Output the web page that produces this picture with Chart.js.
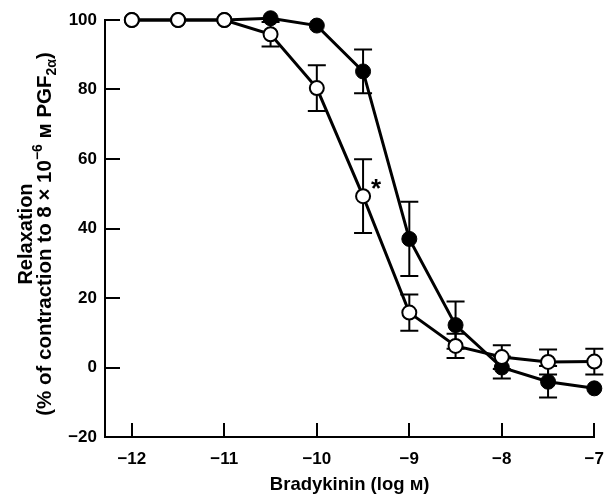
<!DOCTYPE html>
<html>
<head>
<meta charset="utf-8">
<script src="https://cdn.jsdelivr.net/npm/chart.js@4.4.1/dist/chart.umd.min.js"></script>
<style>
  html, body { margin: 0; padding: 0; background: #fff; }
  #wrap { width: 616px; height: 498px; position: relative; }
</style>
</head>
<body>
<div id="wrap"><canvas id="c" width="616" height="498"></canvas></div>
<script>
// ---- data ----
const concentrations = [-12, -11.5, -11, -10.5, -10, -9.5, -9, -8.5, -8, -7.5, -7];
const openMeans   = [100, 100, 100, 95.9, 80.4, 49.3, 15.8, 6.2, 3.0, 1.6, 1.7];
const openErrors  = [0, 0, 0, 3.5, 6.6, 10.6, 5.2, 3.5, 3.4, 3.6, 3.7];
const filledMeans = [100, 100, 100, 100.5, 98.4, 85.2, 37.0, 12.2, 0.0, -4.1, -6.0];
const filledErrors = [0, 0, 0, 0, 0, 6.3, 10.7, 6.8, 3.2, 4.5, 0];
const xTickValues = [-12, -11, -10, -9, -8, -7];
const yTickValues = [-20, 0, 20, 40, 60, 80, 100];
const starPoint = { x: -9.36, y: 53, text: '*' };
const xTitle = 'Bradykinin (log м)';
const yTitleLine1 = 'Relaxation';
const yTitleLine2 = [
  { t: '(% of contraction to 8 × 10', k: 'n' },
  { t: '−6', k: 'sup' },
  { t: ' м PGF', k: 'n' },
  { t: '2α', k: 'sub' },
  { t: ')', k: 'n' }
];

const FONT = '"Liberation Sans", Arial, Helvetica, sans-serif';
const toPts = (ys) => concentrations.map((x, i) => ({ x: x, y: ys[i] }));
const fmt = (v) => (v < 0 ? '\u2212' + Math.abs(v) : String(v));

const decor = {
  id: 'decor',
  beforeDatasetsDraw(chart) {
    const ctx = chart.ctx, xs = chart.scales.x, ys = chart.scales.y, a = chart.chartArea;
    ctx.save();
    ctx.strokeStyle = '#000';
    // inward tick marks
    ctx.lineWidth = 2;
    yTickValues.forEach(v => {
      const p = Math.round(ys.getPixelForValue(v));
      ctx.beginPath(); ctx.moveTo(a.left, p); ctx.lineTo(a.left + 15, p); ctx.stroke();
    });
    xTickValues.forEach(v => {
      const p = Math.round(xs.getPixelForValue(v));
      ctx.beginPath(); ctx.moveTo(p, a.bottom); ctx.lineTo(p, a.bottom - 14); ctx.stroke();
    });
    // error bars
    const bars = (means, errs) => {
      means.forEach((m, i) => {
        const e = errs[i];
        if (!e) return;
        const px = xs.getPixelForValue(concentrations[i]);
        const top = ys.getPixelForValue(m + e), bot = ys.getPixelForValue(m - e);
        ctx.lineWidth = 2;
        ctx.beginPath();
        ctx.moveTo(px, top); ctx.lineTo(px, bot);
        ctx.moveTo(px - 9, top); ctx.lineTo(px + 9, top);
        ctx.moveTo(px - 9, bot); ctx.lineTo(px + 9, bot);
        ctx.stroke();
      });
    };
    bars(openMeans, openErrors);
    bars(filledMeans, filledErrors);
    ctx.restore();
  },
  afterDraw(chart) {
    const ctx = chart.ctx, xs = chart.scales.x, ys = chart.scales.y, a = chart.chartArea;
    ctx.save();
    ctx.fillStyle = '#000';
    // asterisk
    ctx.font = 'bold 26px ' + FONT;
    ctx.textAlign = 'center';
    ctx.textBaseline = 'alphabetic';
    ctx.fillText(starPoint.text, xs.getPixelForValue(starPoint.x), ys.getPixelForValue(starPoint.y) + 14);
    // x title
    ctx.font = 'bold 18.5px ' + FONT;
    ctx.fillText(xTitle, (a.left + a.right) / 2, 490);
    // y title
    const cy = 234;
    ctx.save();
    ctx.translate(32, cy);
    ctx.rotate(-Math.PI / 2);
    ctx.textAlign = 'center';
    ctx.font = 'bold 20px ' + FONT;
    ctx.fillText(yTitleLine1, 0, 0);
    ctx.restore();
    ctx.save();
    ctx.translate(51, cy);
    ctx.rotate(-Math.PI / 2);
    ctx.textAlign = 'left';
    const segFont = k => (k === 'n' ? 'bold 20.5px ' : 'bold 14px ') + FONT;
    let total = 0;
    yTitleLine2.forEach(s => { ctx.font = segFont(s.k); total += ctx.measureText(s.t).width; });
    let x = -total / 2;
    yTitleLine2.forEach(s => {
      ctx.font = segFont(s.k);
      const dy = s.k === 'sup' ? -9 : (s.k === 'sub' ? 5 : 0);
      ctx.fillText(s.t, x, dy);
      x += ctx.measureText(s.t).width;
    });
    ctx.restore();
    ctx.restore();
  }
};

new Chart(document.getElementById('c'), {
  type: 'scatter',
  data: {
    datasets: [
      {
        label: 'open',
        data: toPts(openMeans),
        showLine: true,
        borderColor: '#000',
        backgroundColor: '#fff',
        borderWidth: 3,
        pointRadius: 7,
        pointBorderWidth: 2,
        pointBackgroundColor: '#fff',
        pointBorderColor: '#000',
        tension: 0,
        clip: false
      },
      {
        label: 'filled',
        data: toPts(filledMeans),
        showLine: true,
        borderColor: '#000',
        backgroundColor: '#000',
        borderWidth: 3,
        pointRadius: 7.5,
        pointBorderWidth: 1,
        pointBackgroundColor: '#000',
        pointBorderColor: '#000',
        tension: 0,
        clip: false
      }
    ]
  },
  options: {
    responsive: false,
    animation: false,
    devicePixelRatio: 1,
    layout: { padding: { left: 0, right: 16, top: 20, bottom: 0 } },
    plugins: { legend: { display: false }, tooltip: { enabled: false } },
    scales: {
      x: {
        type: 'linear',
        min: -12.29,
        max: -7,
        afterFit: s => { s.height = 61; },
        afterBuildTicks: s => { s.ticks = xTickValues.map(v => ({ value: v })); },
        grid: { display: true, drawOnChartArea: false, drawTicks: false },
        border: { display: true, color: '#000', width: 2 },
        ticks: {
          padding: 12,
          color: '#000',
          font: { family: FONT, size: 17, weight: 'bold' },
          callback: v => fmt(v)
        }
      },
      y: {
        type: 'linear',
        min: -20,
        max: 100,
        afterFit: s => { s.width = 105; },
        afterBuildTicks: s => { s.ticks = yTickValues.map(v => ({ value: v })); },
        grid: { display: true, drawOnChartArea: false, drawTicks: false },
        border: { display: true, color: '#000', width: 2 },
        ticks: {
          padding: 8,
          color: '#000',
          font: { family: FONT, size: 17, weight: 'bold' },
          callback: v => fmt(v)
        }
      }
    }
  },
  plugins: [decor]
});
</script>
</body>
</html>
